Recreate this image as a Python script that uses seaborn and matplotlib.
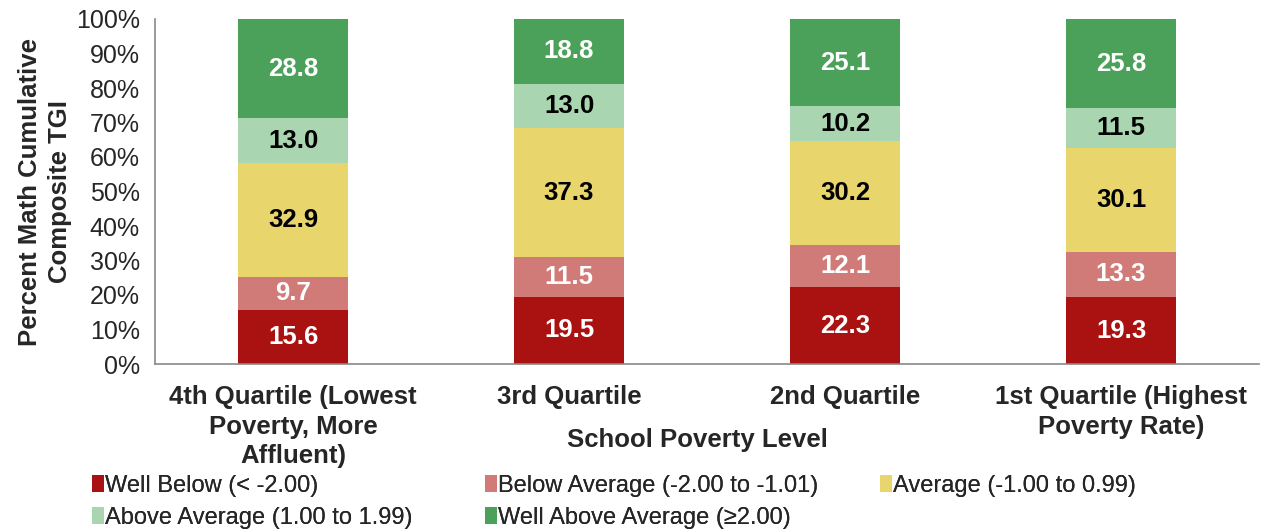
import numpy as np
import pandas as pd
import matplotlib
matplotlib.use("Agg")
import matplotlib.pyplot as plt
import seaborn as sns
from matplotlib.patches import Patch
from matplotlib.ticker import FixedLocator, PercentFormatter

quartiles = ["4th Quartile (Lowest\nPoverty, More\nAffluent)", "3rd Quartile",
             "2nd Quartile", "1st Quartile (Highest\nPoverty Rate)"]
levels = ["Well Below (< -2.00)", "Below Average (-2.00 to -1.01)", "Average (-1.00 to 0.99)",
          "Above Average (1.00 to 1.99)", "Well Above Average (\u22652.00)"]
well_below = [15.6, 19.5, 22.3, 19.3]
below_avg = [9.7, 11.5, 12.1, 13.3]
average = [32.9, 37.3, 30.2, 30.1]
above_avg = [13.0, 13.0, 10.2, 11.5]
well_above = [28.8, 18.8, 25.1, 25.8]

colors = ["#AA1111", "#D17B79", "#E8D56B", "#AAD5B1", "#4BA15A"]
text_colors = ["white", "white", "black", "black", "white"]

sns.set_style("white")
plt.rcParams["font.family"] = ["Liberation Sans", "DejaVu Sans"]

fig = plt.figure(figsize=(12.62, 5.31), dpi=100)
ax = fig.add_axes([155 / 1262, 1 - 364 / 531, 1104 / 1262, 345 / 531])

series = [well_below, below_avg, average, above_avg, well_above]
bottom = np.zeros(len(quartiles))
for vals, col, tcol in zip(series, colors, text_colors):
    df = pd.DataFrame({"q": quartiles, "v": vals})
    sns.barplot(data=df, x="q", y="v", color=col, width=0.4, bottom=bottom,
                errorbar=None, linewidth=0, saturation=1, ax=ax)
    cont = ax.containers[-1]
    ax.bar_label(cont, labels=[f"{v:.1f}" for v in vals], label_type="center",
                 color=tcol, fontsize=18.5, fontweight="bold")
    bottom = bottom + np.array(vals)

ax.set_ylim(0, 100)
ax.set_xlim(-0.5, 3.5)
ax.yaxis.set_major_locator(FixedLocator(np.arange(0, 101, 10)))
ax.yaxis.set_major_formatter(PercentFormatter(decimals=0))
ax.xaxis.set_minor_locator(FixedLocator(np.arange(-0.5, 3.6, 1)))
ax.tick_params(axis="x", which="major", length=0, labelsize=18.5, pad=15)
ax.tick_params(axis="x", which="minor", length=7, color="#898989", width=1.2, direction="out")
ax.tick_params(axis="y", length=7, color="#898989", width=1.2, direction="out", labelsize=18, pad=4)
for lab in ax.get_xticklabels():
    lab.set_fontweight("bold")
    lab.set_linespacing(1.3)
for s in ["top", "right"]:
    ax.spines[s].set_visible(False)
for s in ["left", "bottom"]:
    ax.spines[s].set_color("#898989")
    ax.spines[s].set_linewidth(1.2)

ax.set_xlabel("School Poverty Level", fontsize=18.5, fontweight="bold")
ax.xaxis.set_label_coords(0.491, -0.186)
ax.set_ylabel("Percent Math Cumulative\nComposite TGI", fontsize=18.5, fontweight="bold",
              linespacing=1.3)
ax.yaxis.set_label_coords(-0.0755, 0.5)

handles = [Patch(facecolor=c, edgecolor="none") for c in colors]
columns = [([0, 3], 92), ([1, 4], 485), ([2], 880)]
for idx, xpx in columns:
    leg = fig.legend([handles[i] for i in idx], [levels[i] for i in idx],
                     loc="upper left", bbox_to_anchor=(xpx / 1262, 1 - 475 / 531),
                     frameon=False, fontsize=17, handlelength=0.5, handleheight=0.7,
                     handletextpad=0.05, labelspacing=0.42, borderpad=0, borderaxespad=0)
    fig.add_artist(leg)

fig.savefig("out.png", dpi=100)
